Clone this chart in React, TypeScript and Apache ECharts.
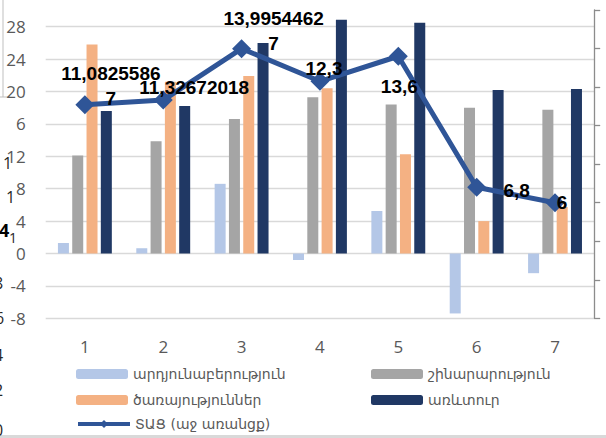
import React, { useEffect, useRef } from "react";
import * as echarts from "echarts";

const categories = ["1", "2", "3", "4", "5", "6", "7"];
const industry = [1.3, 0.65, 8.6, -0.8, 5.25, -7.4, -2.43];
const construction = [12.1, 13.85, 16.6, 19.3, 18.4, 18.0, 17.75];
const services = [25.8, 21.2, 21.9, 20.4, 12.25, 4.0, 5.75];
const trade = [17.6, 18.2, 26.0, 28.85, 28.5, 20.2, 20.3];
const gdp = [11.08255867, 11.32672018, 13.99544627, 12.3, 13.6, 6.8, 6];
const gdpLabels = ["11,0825586\n7", "11,32672018", "13,9954462\n7", "12,3", "13,6", "6,8", "6"];
const leftTickValues = [-8, -4, 0, 4, 8, 12, 16, 20, 24, 28];
const leftTickLabels = ["-8", "-4", "0", "4", "8", "12", "6", "20", "24", "28"];
const seriesNames = [
  "արդյունաբերություն",
  "շինարարություն",
  "ծառայություններ",
  "առևտուր",
  "ՏԱՑ (աջ առանցք)",
];
const strayLeft = ["1", "1", "4", "1", "8", "6", "4", "2", "0"];

const labelOffsets: [number, number][] = [
  [26, -19],
  [31, -13],
  [32, -18],
  [4, -13],
  [1, 30],
  [40, 3],
  [7, 0],
];

const PLOT_L = 45.7;
const PLOT_R = 11.8;
const AX = "#595959";
const FONT = "'Open Sans', 'Noto Sans', sans-serif";
const ARM = "'DejaVu Sans', 'Noto Sans', sans-serif";

export default function App() {
  const ref = useRef<HTMLDivElement>(null);
  useEffect(() => {
    if (!ref.current) return;
    const chart = echarts.init(ref.current, undefined, { renderer: "svg" });
    const barColors = ["#B4C7E7", "#A5A5A5", "#F4B183", "#203864"];
    const barData = [industry, construction, services, trade];
    const legendText = { fontFamily: ARM, fontSize: 14, color: AX };
    const legendBase = {
      itemWidth: 52,
      itemHeight: 10,
      itemGap: 5,
      textStyle: legendText,
      selectedMode: false,
      padding: 0,
    };
    chart.setOption({
      animation: false,
      grid: [
        { left: PLOT_L, right: PLOT_R, top: 26.7, bottom: 438 - 318.3 },
        { left: PLOT_L, right: PLOT_R, top: 10, bottom: 438 - 318.3 },
      ],
      xAxis: [
        {
          type: "category",
          gridIndex: 0,
          data: categories,
          axisLine: { show: false },
          axisTick: { show: false },
          axisLabel: {
            color: AX,
            fontSize: 17,
            fontFamily: FONT,
            margin: 20,
          },
        },
        {
          type: "category",
          gridIndex: 1,
          data: categories,
          show: false,
        },
      ],
      yAxis: [
        {
          type: "value",
          gridIndex: 0,
          min: -8,
          max: 28,
          interval: 4,
          axisLine: { show: false },
          axisTick: { show: false },
          splitLine: { lineStyle: { color: "#D9D9D9", width: 1.3 } },
          axisLabel: {
            color: AX,
            fontSize: 17,
            fontFamily: FONT,
            margin: 20,
            formatter: (v: number) => {
              const i = leftTickValues.indexOf(v);
              return i >= 0 ? leftTickLabels[i] : String(v);
            },
          },
        },
        {
          type: "value",
          gridIndex: 1,
          position: "right",
          min: 0,
          max: 16,
          interval: 2,
          axisLine: { show: true, lineStyle: { color: "#8C8C8C", width: 1.3 } },
          axisTick: { show: true, length: 6, inside: false, lineStyle: { color: "#8C8C8C", width: 1.3 } },
          axisLabel: { show: false },
          splitLine: { show: false },
        },
      ],
      legend: [
        { ...legendBase, data: [seriesNames[0]], left: 76, top: 367 },
        { ...legendBase, data: [seriesNames[1]], left: 371, top: 367 },
        { ...legendBase, data: [seriesNames[2]], left: 76, top: 393 },
        { ...legendBase, data: [seriesNames[3]], left: 371, top: 393 },
        {
          ...legendBase,
          data: [seriesNames[4]],
          left: 76,
          top: 417,
          lineStyle: { width: 4 },
        },
      ],
      series: [
        ...barData.map((d, i) => ({
          type: "bar",
          name: seriesNames[i],
          xAxisIndex: 0,
          yAxisIndex: 0,
          data: d,
          barWidth: 11,
          barGap: "30%",
          clip: false,
          itemStyle: { color: barColors[i] },
        })),
        {
          type: "line",
          name: seriesNames[4],
          xAxisIndex: 1,
          yAxisIndex: 1,
          data: gdp.map((v, i) => ({
            value: v,
            label: {
              show: true,
              position: "inside",
              offset: labelOffsets[i],
              formatter: gdpLabels[i],
            },
          })),
          symbol: "diamond",
          symbolSize: 19,
          z: 5,
          lineStyle: { color: "#2F5597", width: 5 },
          itemStyle: { color: "#2F5597" },
          label: {
            show: true,
            color: "#000",
            fontWeight: "bold",
            fontSize: 19,
            lineHeight: 25,
            align: "center",
            verticalAlign: "middle",
            fontFamily: "'Liberation Sans', Arial, sans-serif",
          },
        },
      ],
      graphic: [
        { type: "line", shape: { x1: 3, y1: 0, x2: 3, y2: 97 }, style: { stroke: "#BFBFBF", lineWidth: 1 } },
        { type: "line", shape: { x1: 0, y1: 97, x2: 10, y2: 97 }, style: { stroke: "#BFBFBF", lineWidth: 1 } },
        { type: "rect", shape: { x: 0, y: 435, width: 606, height: 3 }, style: { fill: "#D9D9D9" } },
        { type: "text", x: 3, y: 163, style: { text: strayLeft[0], fill: "#262626", fontSize: 16, fontFamily: FONT, verticalAlign: "middle" } },
        { type: "text", x: 6, y: 197, style: { text: strayLeft[1], fill: "#262626", fontSize: 16, fontFamily: FONT, verticalAlign: "middle" } },
        { type: "text", x: -1, y: 230, style: { text: strayLeft[2], fill: "#000", fontSize: 18, fontWeight: "bold", fontFamily: FONT, verticalAlign: "middle" } },
        { type: "text", x: 9, y: 237, style: { text: strayLeft[3], fill: "#262626", fontSize: 14, fontFamily: FONT, verticalAlign: "middle" } },
        { type: "text", x: -6, y: 283, style: { text: strayLeft[4], fill: "#262626", fontSize: 16, fontFamily: FONT, verticalAlign: "middle" } },
        { type: "text", x: -5, y: 318, style: { text: strayLeft[5], fill: "#262626", fontSize: 16, fontFamily: FONT, verticalAlign: "middle" } },
        { type: "text", x: -6, y: 355, style: { text: strayLeft[6], fill: "#262626", fontSize: 16, fontFamily: FONT, verticalAlign: "middle" } },
        { type: "text", x: -6, y: 390, style: { text: strayLeft[7], fill: "#262626", fontSize: 16, fontFamily: FONT, verticalAlign: "middle" } },
        { type: "text", x: -6, y: 430, style: { text: strayLeft[8], fill: "#262626", fontSize: 16, fontFamily: FONT, verticalAlign: "middle" } },
      ],
    });
    return () => chart.dispose();
  }, []);
  return (
    <div
      ref={ref}
      style={{ position: "fixed", left: 0, top: 0, width: 606, height: 438, background: "#fff" }}
    />
  );
}
